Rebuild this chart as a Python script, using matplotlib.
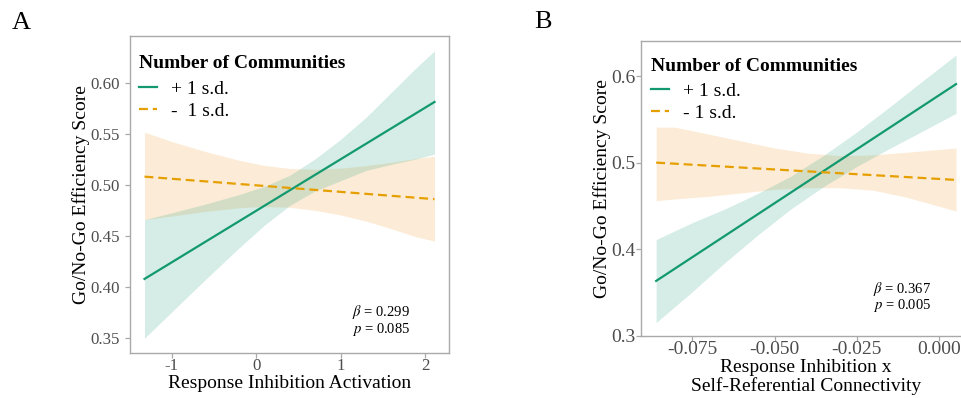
import matplotlib
matplotlib.use("Agg")
import matplotlib.pyplot as plt

plt.rcParams['font.family'] = ['Liberation Serif', 'DejaVu Serif']
plt.rcParams['mathtext.fontset'] = 'stix'
plt.rcParams['axes.unicode_minus'] = False

# ---------------- data ----------------
# Panel A
a_line_x = [-1.32, 2.11]
a_hi_line = [0.408, 0.581]     # +1 s.d.
a_lo_line = [0.508, 0.486]     # -1 s.d.
a_rib_x = [-1.32, -1.0, -0.6, -0.2, 0.1, 0.4, 0.7, 1.0, 1.3, 1.6, 1.9, 2.11]
a_hi_lower = [0.350, 0.3756, 0.4074, 0.4385, 0.4606, 0.4799, 0.4941, 0.5040, 0.5140, 0.5200, 0.5255, 0.530]
a_hi_upper = [0.466, 0.4726, 0.4812, 0.4905, 0.4986, 0.5095, 0.5255, 0.5445, 0.5660, 0.5905, 0.6150, 0.631]
a_lo_lower = [0.466, 0.4694, 0.4740, 0.4776, 0.4788, 0.4780, 0.4750, 0.4705, 0.4645, 0.4570, 0.4490, 0.445]
a_lo_upper = [0.5515, 0.5424, 0.5326, 0.5240, 0.5190, 0.5160, 0.5152, 0.5163, 0.5188, 0.5221, 0.5259, 0.528]
a_xticks = [-1, 0, 1, 2]
a_yticks = [0.35, 0.40, 0.45, 0.50, 0.55, 0.60]
a_yticklabels = ["0.35", "0.40", "0.45", "0.50", "0.55", "0.60"]

# Panel B
b_line_x = [-0.0859, 0.00506]
b_hi_line = [0.3632, 0.5908]
b_lo_line = [0.500, 0.480]
b_rib_x = [-0.0859, -0.075, -0.065, -0.055, -0.045, -0.035, -0.025, -0.015, -0.005, 0.00506]
b_hi_lower = [0.315, 0.3505, 0.3845, 0.4165, 0.4465, 0.4726, 0.4956, 0.5166, 0.5366, 0.557]
b_hi_upper = [0.411, 0.4305, 0.4465, 0.4645, 0.4845, 0.5086, 0.5356, 0.5646, 0.5946, 0.6245]
b_lo_rib_x = [-0.0859, -0.0801, -0.07, -0.06, -0.05, -0.04, -0.03, -0.02, -0.01, 0.00506]
b_lo_lower = [0.456, 0.458, 0.461, 0.465, 0.469, 0.471, 0.471, 0.468, 0.460, 0.444]
b_lo_upper = [0.541, 0.541, 0.533, 0.525, 0.517, 0.511, 0.508, 0.509, 0.512, 0.517]
b_xticks = [-0.075, -0.050, -0.025, 0.000]
b_xticklabels = ["-0.075", "-0.050", "-0.025", "0.000"]
b_yticks = [0.3, 0.4, 0.5, 0.6]
b_yticklabels = ["0.3", "0.4", "0.5", "0.6"]

labels_a = ["+ 1 s.d.", "-  1 s.d."]
labels_b = ["+ 1 s.d.", "- 1 s.d."]
legend_title = "Number of Communities"
ylabel = "Go/No-Go Efficiency Score"
a_xlabel = "Response Inhibition Activation"
b_xlabel = "Response Inhibition x\nSelf-Referential Connectivity"
a_stats = ("0.299", "0.085")
b_stats = ("0.367", "0.005")

GREEN = "#13996F"
ORANGE = "#E69F00"
GREEN_FILL = "#1B9E77"
ORANGE_FILL = "#F2A43A"
SPINE = "#A9A9A9"
TICKTXT = "#4D4D4D"

W, H = 961, 398
fig = plt.figure(figsize=(W / 100, H / 100), dpi=100)


def px_axes(l, t, r, b):
    return [l / W, 1 - b / H, (r - l) / W, (b - t) / H]


def style(ax, size, xpad, ypad):
    for s in ax.spines.values():
        s.set_color(SPINE)
        s.set_linewidth(1.0)
    ax.tick_params(direction='out', length=3.5, width=0.9, color=SPINE,
                   labelcolor=TICKTXT, labelsize=size)
    ax.tick_params(axis='x', pad=xpad)
    ax.tick_params(axis='y', pad=ypad)


def draw(ax, lx, hi, lo, rx_hi, hil, hiu, rx_lo, lol, lou, labels):
    ax.fill_between(rx_lo, lol, lou, color=ORANGE_FILL, alpha=0.2, lw=0)
    ax.fill_between(rx_hi, hil, hiu, color=GREEN_FILL, alpha=0.18, lw=0)
    ax.plot(lx, hi, color=GREEN, lw=1.6, label=labels[0])
    ax.plot(lx, lo, color=ORANGE, lw=1.6, dashes=(4.0, 2.2), label=labels[1])


# Panel A
axA = fig.add_axes(px_axes(130, 36, 449, 353))
draw(axA, a_line_x, a_hi_line, a_lo_line, a_rib_x, a_hi_lower, a_hi_upper,
     a_rib_x, a_lo_lower, a_lo_upper, labels_a)
axA.set_xlim(-1.4915, 2.2815)
axA.set_ylim(0.3356, 0.6455)
axA.set_xticks(a_xticks)
axA.set_yticks(a_yticks)
axA.set_yticklabels(a_yticklabels)
style(axA, 12.2, 0.4, 4.0)
axA.set_xlabel(a_xlabel, fontsize=14, labelpad=0.5)
axA.set_ylabel(ylabel, fontsize=14, labelpad=0.3)

# Panel B
axB = fig.add_axes(px_axes(641, 40.7, 971, 336))
draw(axB, b_line_x, b_hi_line, b_lo_line, b_rib_x, b_hi_lower, b_hi_upper,
     b_lo_rib_x, b_lo_lower, b_lo_upper, labels_b)
axB.set_xlim(-0.0905, 0.0096)
axB.set_ylim(0.2995, 0.641)
axB.set_xticks(b_xticks)
axB.set_xticklabels(b_xticklabels)
axB.set_yticks(b_yticks)
axB.set_yticklabels(b_yticklabels)
style(axB, 14, 0.3, 0.4)
axB.set_xlabel(b_xlabel, fontsize=14, labelpad=0.5, linespacing=1.05)
axB.set_ylabel(ylabel, fontsize=14, labelpad=0.3)

for ax, anchor in ((axA, (0.028, 0.939)), (axB, (0.030, 0.943))):
    leg = ax.legend(loc='upper left', bbox_to_anchor=anchor, frameon=False,
                    title=legend_title, fontsize=14, handlelength=0.95,
                    handletextpad=0.72, borderpad=0.0, borderaxespad=0.0,
                    labelspacing=0.25, alignment='left',
                    title_fontproperties={'weight': 'bold', 'size': 14})
    leg._legend_box.sep = 5.5

# statistics annotations
axA.text(0.878, 0.129, r"$\beta$ = " + a_stats[0], transform=axA.transAxes,
         ha='right', va='center', fontsize=10.5)
axA.text(0.878, 0.073, r"$p$ = " + a_stats[1], transform=axA.transAxes,
         ha='right', va='center', fontsize=10.5)
axB.text(0.879, 0.159, r"$\beta$ = " + b_stats[0], transform=axB.transAxes,
         ha='right', va='center', fontsize=10.5)
axB.text(0.879, 0.1016, r"$p$ = " + b_stats[1], transform=axB.transAxes,
         ha='right', va='center', fontsize=10.5)

fig.text(12 / W, 1 - 23 / H, "A", fontsize=19, ha='left', va='center')
fig.text(534 / W, 1 - 22 / H, "B", fontsize=19, ha='left', va='center')

fig.savefig("out.png", dpi=100)
